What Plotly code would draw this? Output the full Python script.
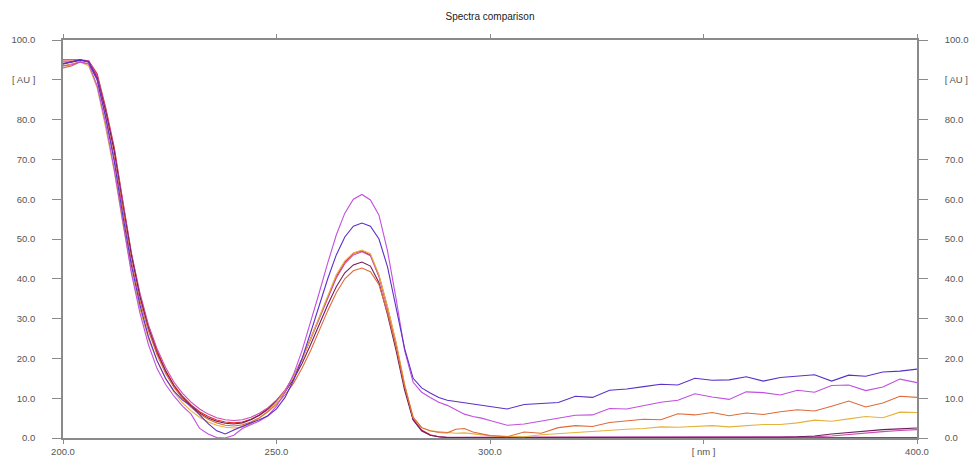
import plotly.graph_objects as go

# Wavelength grid [nm]
wavelength = [
    200, 202, 204, 206, 208, 210, 212, 214, 216, 218,
    220, 222, 224, 226, 228, 230, 232, 234, 236, 238,
    240, 242, 244, 246, 248, 250, 252, 254, 256, 258,
    260, 262, 264, 266, 268, 270, 272, 274, 276, 278,
    280, 282, 284, 286, 288, 290, 292, 294, 296, 298,
    300,
    304, 308, 312, 316, 320, 324, 328, 332, 336, 340,
    344, 348, 352, 356, 360, 364, 368, 372, 376, 380,
    384, 388, 392, 396, 400,
]

# Absorbance spectra [AU]
spec_red = [
    95.0, 95.0, 95.0, 94.8, 91.5, 83.0, 73.0, 59.5, 46.5, 36.0,
    28.0, 22.0, 17.0, 13.3, 10.5, 8.3, 6.6, 5.4, 4.5, 4.0,
    3.8, 4.0, 4.7, 5.8, 7.4, 9.4, 12.0, 15.5, 20.0, 25.0,
    30.3, 35.5, 40.5, 44.2, 46.4, 47.0, 46.0, 40.8, 32.8, 23.8,
    13.2, 4.8, 2.0, 0.8, 0.3, 0.1, 0.1, 0.1, 0.1, 0.1,
    0.1,
    0.1, 0.1, 0.1, 0.1, 0.1, 0.1, 0.1, 0.1, 0.1, 0.1,
    0.1, 0.1, 0.1, 0.1, 0.1, 0.1, 0.1, 0.1, 0.1, 0.1,
    0.1, 0.1, 0.1, 0.1, 0.1,
]

spec_pink = [
    94.5, 94.5, 94.8, 94.8, 91.0, 82.5, 72.5, 59.0, 46.5, 36.5,
    28.5, 22.5, 17.8, 14.0, 11.2, 9.0, 7.3, 6.0, 5.1, 4.6,
    4.4, 4.6, 5.2, 6.2, 7.6, 9.5, 12.0, 15.4, 19.8, 24.8,
    30.0, 35.3, 40.2, 43.8, 46.0, 46.8, 45.8, 40.5, 32.5, 23.5,
    12.8, 4.6, 1.8, 0.7, 0.3, 0.2, 0.2, 0.2, 0.2, 0.2,
    0.2,
    0.2, 0.2, 0.2, 0.2, 0.2, 0.2, 0.2, 0.2, 0.2, 0.2,
    0.2, 0.2, 0.2, 0.2, 0.2, 0.2, 0.2, 0.2, 0.3, 0.5,
    0.9, 1.3, 1.6, 1.9, 2.1,
]

spec_plum = [
    94.0, 94.5, 95.0, 94.5, 90.5, 82.0, 72.0, 58.5, 46.0, 35.5,
    27.5, 21.5, 16.8, 13.0, 10.2, 8.0, 6.3, 5.0, 4.2, 3.7,
    3.5, 3.8, 4.6, 5.7, 7.2, 9.2, 11.6, 14.8, 18.8, 23.5,
    28.5, 33.5, 38.0, 41.5, 43.5, 44.2, 43.2, 39.0, 31.0, 22.0,
    12.0, 4.5, 1.8, 0.7, 0.3, 0.1, 0.1, 0.1, 0.1, 0.1,
    0.1,
    0.1, 0.1, 0.2, 0.1, 0.1, 0.2, 0.1, 0.2, 0.2, 0.1,
    0.2, 0.2, 0.1, 0.2, 0.2, 0.2, 0.2, 0.3, 0.5, 1.0,
    1.4, 1.8, 2.1, 2.3, 2.5,
]

spec_gold = [
    93.5, 94.0, 94.5, 93.5, 88.0, 78.0, 67.0, 54.0, 42.0, 32.5,
    25.0, 19.5, 15.0, 11.5, 8.8, 6.8, 5.2, 4.0, 3.2, 2.7,
    2.5, 2.8, 3.6, 5.0, 6.8, 9.0, 11.8, 15.3, 19.8, 25.0,
    30.5, 36.0, 41.0, 44.5, 46.5, 47.2, 46.3, 41.0, 33.0, 24.0,
    13.5, 5.2, 2.6, 1.8, 1.6, 1.4, 1.2, 1.3, 1.1, 0.8,
    0.6,
    0.4, 0.3, 0.8, 1.1, 1.3, 1.6, 2.0, 2.2, 2.4, 2.8,
    2.7, 2.9, 3.1, 2.8, 3.1, 3.4, 3.4, 3.8, 4.5, 4.2,
    4.8, 5.4, 5.1, 6.5, 6.4,
]

spec_orange = [
    93.0, 93.5, 94.5, 94.0, 90.0, 81.0, 70.5, 57.0, 44.5, 34.5,
    27.0, 21.0, 16.3, 12.7, 9.9, 7.7, 6.0, 4.7, 3.8, 3.2,
    3.0, 3.3, 4.0, 5.1, 6.6, 8.5, 10.8, 13.8, 17.6, 22.0,
    27.0, 32.0, 36.5, 40.0, 42.0, 42.7, 41.8, 38.5, 31.5, 23.0,
    13.0, 5.2, 2.6, 1.8, 1.4, 1.3, 2.2, 2.4, 1.5, 1.0,
    0.6,
    0.3, 1.5, 1.2, 2.6, 3.1, 2.9, 3.9, 4.3, 4.7, 4.6,
    6.1, 5.8, 6.4, 5.6, 6.3, 5.9, 6.6, 7.1, 6.8, 8.0,
    9.3, 7.8, 8.8, 10.5, 10.2,
]

spec_violet = [
    93.5, 93.8, 94.5, 94.0, 88.5, 79.0, 67.5, 54.0, 41.5, 31.5,
    23.5, 17.5, 13.5, 10.5, 8.0, 6.0, 2.4, 1.0, 0.1, 0.0,
    0.7, 2.4, 3.3, 4.3, 5.6, 8.0, 11.5, 16.0, 22.0, 29.0,
    36.5, 44.0, 51.0, 56.5, 60.0, 61.2, 59.8, 56.0, 47.0, 35.0,
    22.0, 14.0, 11.5, 10.2, 9.0, 8.2, 7.0, 6.0, 5.4, 5.0,
    4.4,
    3.2, 3.5, 4.2, 5.0, 5.7, 5.8, 7.4, 7.3, 8.2, 9.0,
    9.5, 11.1, 10.3, 9.7, 11.6, 11.4, 10.8, 12.0, 11.5, 13.2,
    13.3, 11.9, 12.8, 14.8, 13.9,
]

spec_indigo = [
    94.0, 94.5, 95.0, 94.5, 90.0, 80.5, 69.5, 56.0, 43.5, 33.5,
    25.5, 19.5, 15.0, 11.8, 9.5, 8.0, 5.8, 3.6, 1.8, 1.0,
    2.0, 2.8, 3.8, 4.6, 5.6, 7.3, 10.2, 14.5, 20.0, 26.5,
    33.5, 40.0, 46.0, 50.5, 53.2, 54.0, 53.2, 50.0, 43.0, 33.0,
    22.5, 15.0, 12.6, 11.3, 10.2, 9.5, 9.2, 8.9, 8.6, 8.3,
    7.9,
    7.3, 8.4, 8.6, 8.9, 10.5, 10.2, 12.0, 12.3, 12.9, 13.5,
    13.3, 15.0, 14.5, 14.6, 15.4, 14.3, 15.2, 15.5, 15.9, 14.3,
    15.8, 15.5, 16.6, 16.8, 17.3,
]

# (values, colour, y axis) - the last spectrum sits on the right-hand
# axis, which shares the left axis' scale, so that axis gets its ticks.
series = [
    (spec_red, "#e02a2a", "y"),
    (spec_pink, "#cc4cb0", "y"),
    (spec_plum, "#6e1f5c", "y"),
    (spec_gold, "#e5b23e", "y"),
    (spec_orange, "#df6b3a", "y"),
    (spec_violet, "#c24fe0", "y"),
    (spec_indigo, "#5b30c8", "y2"),
]

y_ticks = [0, 10, 20, 30, 40, 50, 60, 70, 80, 90, 100]
y_labels = ["0.0", "10.0", "20.0", "30.0", "40.0", "50.0",
            "60.0", "70.0", "80.0", "[ AU ]", "100.0"]
x_ticks = [200, 250, 300, 350, 400]
x_labels = ["200.0", "250.0", "300.0", "[ nm ]", "400.0"]

fig = go.Figure()
for values, color, yax in series:
    fig.add_trace(go.Scatter(
        x=wavelength, y=values, mode="lines", yaxis=yax,
        line=dict(color=color, width=1.1),
        hoverinfo="skip", showlegend=False,
    ))

axis_color = "#8a8a8a"
tick_font = dict(family="Liberation Sans, Arial, sans-serif", size=9.5, color="#555555")

y_common = dict(
    range=[0, 100], tickmode="array", tickvals=y_ticks, ticktext=y_labels,
    ticks="outside", ticklen=9, tickwidth=1.3, tickcolor=axis_color,
    showline=True, linecolor=axis_color, linewidth=1.6,
    showgrid=False, zeroline=False, tickfont=tick_font,
    automargin=False, ticklabelstandoff=15,
)

fig.update_layout(
    width=970, height=462,
    margin=dict(l=63, r=53, t=40, b=24, autoexpand=False),
    paper_bgcolor="white", plot_bgcolor="white",
    showlegend=False,
    title=dict(
        text="Spectra comparison", x=0.5, xref="paper", xanchor="center",
        y=1 - 16 / 462, yref="container", yanchor="middle",
        font=dict(family="Liberation Sans, Arial, sans-serif", size=10, color="#222222"),
    ),
    xaxis=dict(
        range=[200, 400], tickmode="array", tickvals=x_ticks, ticktext=x_labels,
        ticks="outside", ticklen=4, tickwidth=1.3, tickcolor=axis_color,
        showline=True, linecolor=axis_color, linewidth=1.6, mirror="ticks",
        showgrid=False, zeroline=False, tickfont=tick_font,
        layer="below traces", automargin=False,
    ),
    yaxis=dict(side="left", layer="below traces", **y_common),
    yaxis2=dict(side="right", overlaying="y", anchor="x", layer="below traces", **y_common),
)

fig.write_html("out.html")
